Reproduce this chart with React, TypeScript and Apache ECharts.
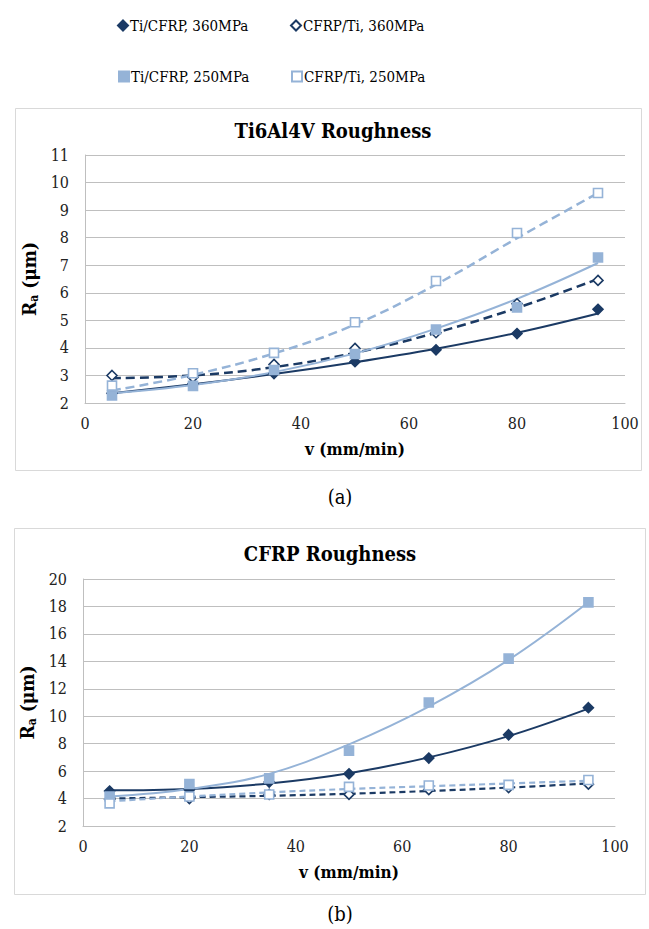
import React, { useEffect, useRef } from "react";
import * as echarts from "echarts";

// x values (cutting speed, mm/min)
const VEL = [5, 20, 35, 50, 65, 80, 95];

// (a) Ti6Al4V roughness — measured points
const tiCfrp360A = [2.35, 2.7, 3.07, 3.5, 3.93, 4.52, 5.4];
const cfrpTi360A = [3.0, 2.93, 3.4, 3.98, 4.55, 5.6, 6.45];
const tiCfrp250A = [2.27, 2.62, 3.2, 3.78, 4.67, 5.47, 7.28];
const cfrpTi250A = [2.63, 3.08, 3.82, 4.93, 6.43, 8.17, 9.62];
// (a) trend lines read at the same speeds
const tiCfrp360ATrend = [2.35, 2.68, 3.05, 3.48, 3.97, 4.55, 5.25];
const cfrpTi360ATrend = [2.9, 3.0, 3.3, 3.82, 4.55, 5.45, 6.5];
const tiCfrp250ATrend = [2.35, 2.65, 3.12, 3.8, 4.7, 5.78, 7.08];
const cfrpTi250ATrend = [2.45, 3.02, 3.8, 4.85, 6.3, 7.98, 9.62];

// (b) CFRP roughness — measured points
const tiCfrp360B = [4.55, 4.65, 5.2, 5.8, 6.95, 8.65, 10.62];
const cfrpTi360B = [3.95, 4.0, 4.3, 4.3, 4.65, 4.8, 5.05];
const tiCfrp250B = [4.15, 5.06, 5.47, 7.49, 11.0, 14.2, 18.3];
const cfrpTi250B = [3.65, 4.15, 4.3, 4.85, 4.95, 5.0, 5.35];
// (b) trend lines
const tiCfrp360BTrend = [4.6, 4.7, 5.1, 5.85, 7.0, 8.55, 10.55];
const cfrpTi360BTrend = [4.0, 4.1, 4.2, 4.35, 4.55, 4.8, 5.1];
const tiCfrp250BTrend = [4.15, 4.7, 5.8, 7.95, 10.7, 14.1, 18.3];
const cfrpTi250BTrend = [3.8, 4.15, 4.45, 4.7, 4.9, 5.1, 5.3];

const NAMES = ["Ti/CFRP, 360MPa", "CFRP/Ti, 360MPa", "Ti/CFRP, 250MPa", "CFRP/Ti, 250MPa"];
const TITLES = ["Ti6Al4V Roughness", "CFRP Roughness"];
const CAPTIONS = ["(a)", "(b)"];
const X_NAME = "v (mm/min)";

const DARK = "#1b3a64";
const LIGHT = "#95b3d7";
const FONT = "'DejaVu Serif Condensed', 'DejaVu Serif'";

const pairs = (ys: number[]) => VEL.map((x, i) => [x, ys[i]]);

export default function App() {
  const ref = useRef<HTMLDivElement>(null);
  useEffect(() => {
    document.body.style.margin = "0";
    const chart = echarts.init(ref.current!, null, { renderer: "svg" });

    const styles = [
      { symbol: "diamond", size: 10, color: DARK, border: DARK, line: DARK, type: "solid" as const, width: 2 },
      { symbol: "diamond", size: 10, color: "#fff", border: DARK, line: DARK, type: [9, 5], width: 2.5 },
      { symbol: "rect", size: 9, color: LIGHT, border: LIGHT, line: LIGHT, type: "solid" as const, width: 2 },
      { symbol: "rect", size: 9, color: "#fff", border: LIGHT, line: LIGHT, type: [9, 5], width: 2.5 },
    ];
    const setsA = [
      [tiCfrp360A, tiCfrp360ATrend],
      [cfrpTi360A, cfrpTi360ATrend],
      [tiCfrp250A, tiCfrp250ATrend],
      [cfrpTi250A, cfrpTi250ATrend],
    ];
    const setsB = [
      [tiCfrp360B, tiCfrp360BTrend],
      [cfrpTi360B, cfrpTi360BTrend],
      [tiCfrp250B, tiCfrp250BTrend],
      [cfrpTi250B, cfrpTi250BTrend],
    ];
    const series: any[] = [];
    [setsA, setsB].forEach((sets, g) => {
      sets.forEach(([pts, trend], i) => {
        const s = styles[i];
        const dashed = i % 2 === 1;
        series.push({
          type: "line",
          name: NAMES[i] + " trend",
          xAxisIndex: g,
          yAxisIndex: g,
          data: pairs(trend),
          smooth: 0.4,
          showSymbol: false,
          silent: true,
          z: 2,
          lineStyle: {
            color: s.line,
            width: g === 1 && dashed ? 2.2 : s.width,
            type: g === 1 && dashed ? [6, 4] : s.type,
          },
        });
      });
      sets.forEach(([pts], i) => {
        const s = styles[i];
        series.push({
          type: "scatter",
          name: NAMES[i],
          xAxisIndex: g,
          yAxisIndex: g,
          data: pairs(pts),
          symbol: s.symbol,
          symbolSize: s.size,
          z: 3,
          itemStyle: { color: s.color, borderColor: s.border, borderWidth: 1.6, opacity: 1 },
        });
      });
    });

    const legendPos = [
      { left: 112, top: 13 },
      { left: 285, top: 13 },
      { left: 113, top: 64 },
      { left: 286, top: 64 },
    ];

    const xAxis = (gi: number) => ({
      type: "value",
      gridIndex: gi,
      min: 0,
      max: 100,
      interval: 20,
      name: X_NAME,
      nameLocation: "middle",
      nameGap: 37,
      nameTextStyle: { fontFamily: FONT, fontSize: 17, fontWeight: "bold", color: "#000" },
      axisLine: { show: true, lineStyle: { color: "#bfbfbf", width: 1 } },
      axisTick: { show: false },
      splitLine: { show: false },
      axisLabel: { fontFamily: FONT, fontSize: 16, color: "#222", margin: 12 },
    });
    const yAxis = (gi: number, min: number, max: number, interval: number) => ({
      type: "value",
      gridIndex: gi,
      min,
      max,
      interval,
      name: "{m|R}{s|a}{m| (μm)}",
      nameLocation: "middle",
      nameRotate: 90,
      nameGap: 44,
      nameTextStyle: {
        fontFamily: FONT,
        fontWeight: "bold",
        color: "#000",
        rich: {
          m: { fontFamily: FONT, fontSize: 19, fontWeight: "bold", color: "#000" },
          s: { fontFamily: FONT, fontSize: 12, fontWeight: "bold", color: "#000", verticalAlign: "bottom", padding: [10, 0, 0, 0] },
        },
      },
      axisLine: { show: true, lineStyle: { color: "#bfbfbf", width: 1 } },
      axisTick: { show: false },
      splitLine: { show: true, lineStyle: { color: "#bfbfbf", width: 1 } },
      axisLabel: { fontFamily: FONT, fontSize: 16, color: "#222", margin: 16 },
    });

    chart.setOption({
      animation: false,
      backgroundColor: "#fff",
      textStyle: { fontFamily: FONT },
      title: [
        { text: TITLES[0], left: 328, top: 116, textAlign: "center", textStyle: { fontFamily: FONT, fontSize: 20, fontWeight: "bold", color: "#000" } },
        { text: TITLES[1], left: 325, top: 539, textAlign: "center", textStyle: { fontFamily: FONT, fontSize: 20, fontWeight: "bold", color: "#000" } },
      ],
      legend: NAMES.map((n, i) => ({
        data: [n],
        left: legendPos[i].left,
        top: legendPos[i].top,
        itemWidth: 10,
        itemHeight: 10,
        selectedMode: false,
        textStyle: { fontFamily: FONT, fontSize: 15, color: "#000", padding: [0, 0, 0, -3] },
      })),
      grid: [
        { left: 85, top: 155, width: 540, height: 248 },
        { left: 83, top: 579, width: 532, height: 247 },
      ],
      xAxis: [xAxis(0), xAxis(1)],
      yAxis: [yAxis(0, 2, 11, 1), yAxis(1, 2, 20, 2)],
      graphic: [
        { type: "rect", shape: { x: 15.5, y: 108.5, width: 626, height: 362 }, style: { fill: "none", stroke: "#d9d9d9", lineWidth: 1 }, z: -1 },
        { type: "rect", shape: { x: 14.5, y: 528.5, width: 631, height: 366 }, style: { fill: "none", stroke: "#d9d9d9", lineWidth: 1 }, z: -1 },
        { type: "text", x: 340, y: 497, style: { text: CAPTIONS[0], fontFamily: FONT, fontSize: 20, fill: "#000", textAlign: "center", textVerticalAlign: "middle" } },
        { type: "text", x: 340, y: 914, style: { text: CAPTIONS[1], fontFamily: FONT, fontSize: 20, fill: "#000", textAlign: "center", textVerticalAlign: "middle" } },
      ],
      series,
    });
    return () => chart.dispose();
  }, []);
  return <div ref={ref} style={{ width: 649, height: 929 }} />;
}
